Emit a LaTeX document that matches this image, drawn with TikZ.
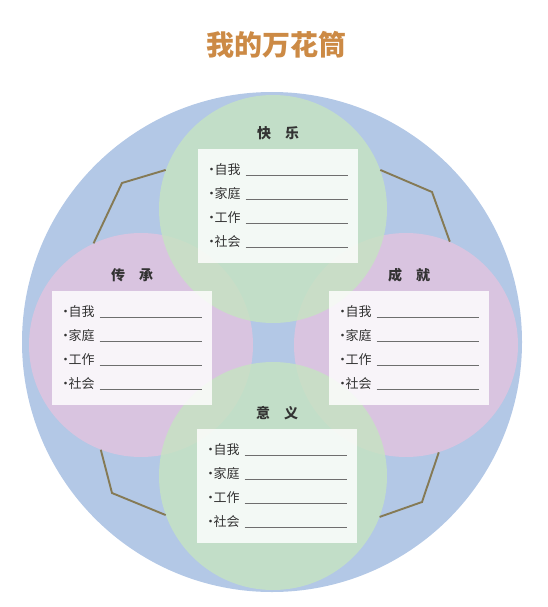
\documentclass[tikz,border=0pt]{standalone}
\usepackage{fontspec}
\setmainfont{Noto Sans CJK SC}
\usetikzlibrary{positioning}
\definecolor{rimblue}{HTML}{B3C8E6}
\definecolor{petalgreen}{HTML}{C6E4C1}
\definecolor{petalpink}{HTML}{D9C4E0}
\definecolor{titleorange}{HTML}{CC8A45}
\definecolor{inkgray}{HTML}{333333}
\definecolor{rulegray}{HTML}{6E6E6E}
\definecolor{braceolive}{HTML}{857A55}
\newcommand{\dotmark}{\makebox[6pt][c]{·}}
\newcommand{\blank}{\hspace{5pt}\textcolor{rulegray}{\rule[-1pt]{102pt}{1.1pt}}}
\newcommand{\cardrows}{\dotmark 自我\blank\\\dotmark 家庭\blank\\\dotmark 工作\blank\\\dotmark 社会\blank}

\begin{document}
\begin{tikzpicture}[x=1pt,y=-1pt,
  rim/.style={circle,fill=rimblue,inner sep=0pt,minimum size=500pt},
  greenpetal/.style={circle,fill=petalgreen,fill opacity=0.8,inner sep=0pt,minimum size=228pt},
  pinkpetal/.style={circle,fill=petalpink,inner sep=0pt,minimum size=224pt},
  card/.style={fill=white,fill opacity=0.82,text opacity=1,text=inkgray,minimum width=160pt,minimum height=114pt,align=left,font=\fontsize{13}{24}\selectfont},
  heading/.style={text=inkgray,font=\fontsize{14}{14}\selectfont\bfseries},
  brace/.style={draw=braceolive,line width=1.9pt}]
  \useasboundingbox (0,0) rectangle (548,607);
  \node[font=\fontsize{28}{28}\selectfont\bfseries,text=titleorange] (title) at (276,45) {我的万花筒};
  \node[rim] (rim) at (272,342) {};
  \node[pinkpetal] (legacy) at (141,345) {};
  \node[pinkpetal] (success) at (406,345) {};
  \node[greenpetal] (happy) at (273,209) {};
  \node[greenpetal] (meaning) at (273,476) {};
  \coordinate (ulbend) at (122,183);
  \coordinate (urbend) at (432,192);
  \coordinate (lrbend) at (422,502);
  \coordinate (llbend) at (112,493);
  \draw[brace] (legacy.115) -- (ulbend) -- (happy.160);
  \draw[brace] (happy.20) -- (urbend) -- (success.67);
  \draw[brace] (success.287) -- (lrbend) -- (meaning.-21);
  \draw[brace] (meaning.200) -- (llbend) -- (legacy.249);
  \node[card] (happybox) at (278,206) {\cardrows};
  \node[card] (legacybox) at (132,348) {\cardrows};
  \node[card] (successbox) at (409,348) {\cardrows};
  \node[card] (meaningbox) at (277,486) {\cardrows};
  \node[heading,above=5pt of happybox] (happylabel) {快\quad 乐};
  \node[heading,above=5pt of legacybox] (legacylabel) {传\quad 承};
  \node[heading,above=5pt of successbox] (successlabel) {成\quad 就};
  \node[heading,above=5pt of meaningbox] (meaninglabel) {意\quad 义};
\end{tikzpicture}
\end{document}
